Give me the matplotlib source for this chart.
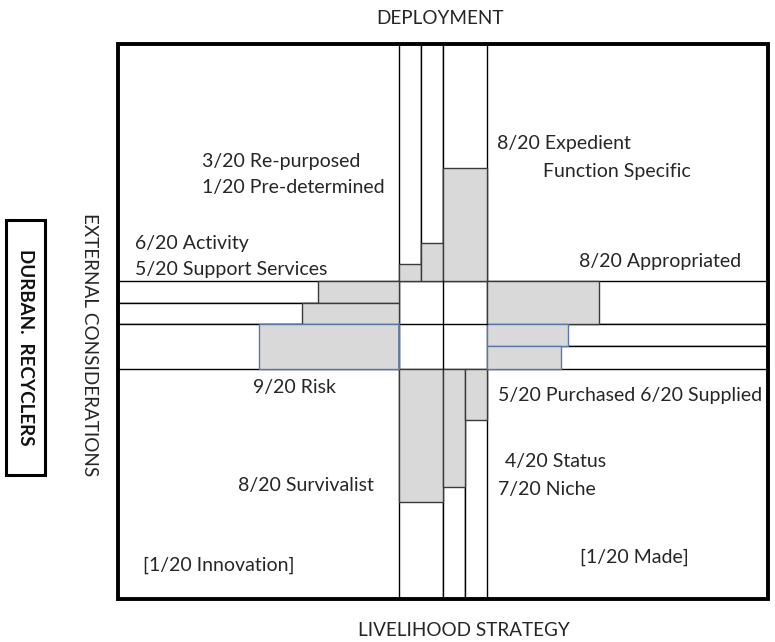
import matplotlib.pyplot as plt

plt.rcParams['font.family'] = ['Lato', 'DejaVu Sans']

# bar lengths, in twentieths of each arm
up_names = ['Pre-determined', 'Re-purposed', 'Expedient']
up_vals = [1.4, 3.2, 9.5]
down_names = ['Survivalist', 'Niche', 'Status']
down_vals = [11.6, 10.3, 4.4]
left_names = ['Activity', 'Support Services', 'Risk']
left_vals = [5.8, 6.9, 10.0]
right_names = ['Appropriated', 'Supplied', 'Purchased']
right_vals = [8.0, 5.8, 5.3]

labels = [
    ('3/20 Re-purposed', 202, 162), ('1/20 Pre-determined', 202, 188),
    ('6/20 Activity', 135, 244), ('5/20 Support Services', 135, 270),
    ('8/20 Expedient', 497, 144), ('Function Specific', 543, 171),
    ('8/20 Appropriated', 579, 262),
    ('5/20 Purchased 6/20 Supplied', 498, 395),
    ('4/20 Status', 505, 462), ('7/20 Niche', 498, 489),
    ('9/20 Risk', 253, 388), ('8/20 Survivalist', 238, 485),
    ('[1/20 Innovation]', 143, 565), ('[1/20 Made]', 580, 557),
]

# layout (pixels)
L, R, T, B = 118, 768, 44, 599
up_x = [399, 421, 443]
up_w = [22, 22, 44]
down_x = [399, 443, 465]
down_w = [44, 22, 22]
left_y = [281, 303, 324]
left_h = [22, 21, 45]
right_y = [281, 324, 346]
right_h = [43, 22, 23]
cx0, cx1, cy0, cy1 = 399, 487, 281, 369

gray = '#d9d9d9'
blue = '#5a77a6'
txt = '#262626'
lw = 1.0

fig = plt.figure(figsize=(7.75, 6.42), dpi=100)
ax = fig.add_axes([0, 0, 1, 1])
ax.set_xlim(0, 775)
ax.set_ylim(642, 0)
ax.axis('off')

# frame
ax.add_patch(plt.Rectangle((L, T), R - L, B - T, fill=False, lw=2.8, ec='black', zorder=5))

# empty lanes
ax.bar(up_x, [cy0 - T] * 3, width=up_w, bottom=T, align='edge', color='white', ec='black', lw=lw)
ax.bar(down_x, [B - cy1] * 3, width=down_w, bottom=cy1, align='edge', color='white', ec='black', lw=lw)
ax.barh(left_y, [cx0 - L] * 3, height=left_h, left=L, align='edge', color='white', ec='black', lw=lw)
ax.barh(right_y, [R - cx1] * 3, height=right_h, left=cx1, align='edge', color='white', ec='black', lw=lw)

# filled parts
sv = (cy0 - T) / 20
ax.bar(up_x, [-v * sv for v in up_vals], width=up_w, bottom=cy0, align='edge',
       color=gray, ec='#3a3a3a', lw=lw)
sv = (B - cy1) / 20
ax.bar(down_x, [v * sv for v in down_vals], width=down_w, bottom=cy1, align='edge',
       color=gray, ec='#3a3a3a', lw=lw)
sh = (cx0 - L) / 20
ax.barh(left_y, [-v * sh for v in left_vals], height=left_h, left=cx0, align='edge',
        color=gray, ec=['#3a3a3a', '#3a3a3a', blue], lw=lw)
sh = (R - cx1) / 20
ax.barh(right_y, [v * sh for v in right_vals], height=right_h, left=cx1, align='edge',
        color=gray, ec=['#3a3a3a', blue, blue], lw=lw)

# centre cells
ax.plot([399, 487], [324, 324], color='black', lw=lw)
ax.plot([443, 443], [281, 369], color='black', lw=lw)
ax.plot([399, 399], [324, 369], color=blue, lw=lw + 0.2)

for s, x, y in labels:
    ax.text(x, y, s, ha='left', va='center', fontsize=14, color=txt)

ax.text(440, 18, 'DEPLOYMENT', ha='center', va='center', fontsize=13.6, color=txt)
ax.text(464, 630, 'LIVELIHOOD STRATEGY', ha='center', va='center', fontsize=13.6, color=txt)
ax.text(89, 345, 'EXTERNAL CONSIDERATIONS', ha='center', va='center', rotation=270,
        fontsize=13.6, color=txt)
ax.add_patch(plt.Rectangle((6, 220), 39, 255, fill=False, ec='black', lw=2.2))
ax.text(25, 347, 'DURBAN.  RECYCLERS', ha='center', va='center', rotation=270,
        fontsize=13.5, fontweight='bold', color='#111111')

fig.savefig('out.png', dpi=100)
